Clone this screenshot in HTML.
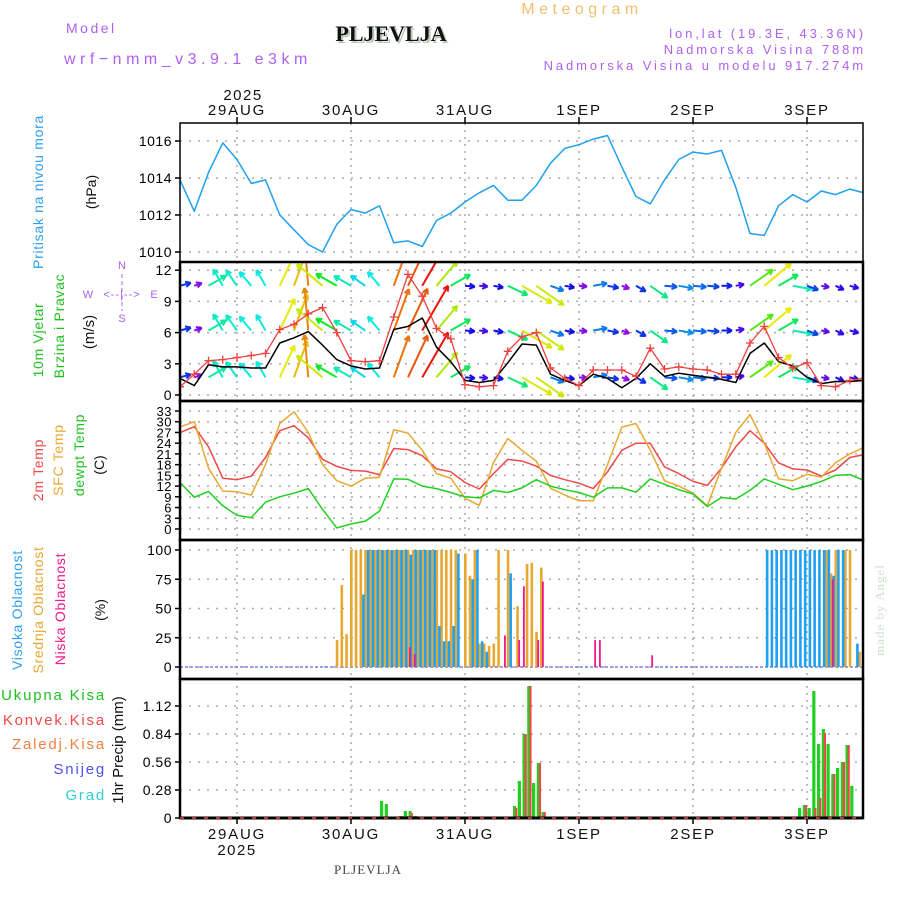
<!DOCTYPE html>
<html><head><meta charset="utf-8"><style>
html,body{margin:0;padding:0;background:#fff;}
svg{display:block;font-family:"Liberation Sans",sans-serif;}
</style></head><body>
<svg id="chart" width="900" height="900" viewBox="0 0 900 900">
<g>
<text x="66" y="33" font-size="14" fill="#b060f0" letter-spacing="2.5">Model</text>
<text x="64" y="64" font-size="16" fill="#b060f0" letter-spacing="4.5">wrf−nmm_v3.9.1 e3km</text>
<text x="393" y="43" font-size="22" font-weight="bold" font-family="Liberation Serif,serif" fill="#b8c8b8" text-anchor="middle">PLJEVLJA</text>
<text x="391" y="41" font-size="22" font-weight="bold" font-family="Liberation Serif,serif" fill="#111" text-anchor="middle">PLJEVLJA</text>
<text x="582" y="14" font-size="16" fill="#f0c070" letter-spacing="4.5" text-anchor="middle">Meteogram</text>
<text x="866" y="38" font-size="13" fill="#b060f0" letter-spacing="2.9" text-anchor="end">lon,lat (19.3E, 43.36N)</text>
<text x="866" y="54" font-size="13" fill="#b060f0" letter-spacing="2.9" text-anchor="end">Nadmorska Visina 788m</text>
<text x="866" y="70" font-size="13" fill="#b060f0" letter-spacing="2.9" text-anchor="end">Nadmorska Visina u modelu 917.274m</text>
<text x="243" y="100" font-size="15" fill="#111" text-anchor="middle" letter-spacing="1.5">2025</text>
<text x="368" y="874" font-size="13" font-family="Liberation Serif,serif" fill="#444" text-anchor="middle" letter-spacing="1">PLJEVLJA</text>
<text transform="translate(884,610) rotate(-90)" font-size="13" font-family="Liberation Serif,serif" fill="#d0e0d0" text-anchor="middle" letter-spacing="1">made by Angel</text>
</g>
<g font-size="14">
<text transform="translate(43,192) rotate(-90)" fill="#30a0f0" text-anchor="middle" letter-spacing="0.7">Pritisak na nivou mora</text>
<text transform="translate(96,192) rotate(-90)" fill="#111" text-anchor="middle">(hPa)</text>
<text transform="translate(43,340) rotate(-90)" fill="#20c020" text-anchor="middle" letter-spacing="0.7">10m Vjetar</text>
<text transform="translate(64,326) rotate(-90)" fill="#20c020" text-anchor="middle" letter-spacing="0.7">Brzina i Pravac</text>
<text transform="translate(94,332) rotate(-90)" fill="#111" font-size="15" text-anchor="middle">(m/s)</text>
<g fill="#b060f0" font-size="11">
<text x="88" y="298" text-anchor="middle">W</text><text x="154" y="298" text-anchor="middle">E</text>
<text x="122" y="269" text-anchor="middle">N</text><text x="122" y="322" text-anchor="middle">S</text>
<text x="122" y="298" text-anchor="middle" letter-spacing="1">&lt;--|--&gt;</text>
<line x1="122" y1="274" x2="122" y2="311" stroke="#b060f0" stroke-dasharray="4,3"/>
</g>
<text transform="translate(43,470) rotate(-90)" fill="#f04848" text-anchor="middle" letter-spacing="0.7">2m Temp</text>
<text transform="translate(63,460) rotate(-90)" fill="#e8a830" text-anchor="middle" letter-spacing="0.7">SFC Temp</text>
<text transform="translate(84,455) rotate(-90)" fill="#20c020" text-anchor="middle" letter-spacing="0.7">dewpt Temp</text>
<text transform="translate(104,465) rotate(-90)" fill="#111" text-anchor="middle">(C)</text>
<text transform="translate(22,610) rotate(-90)" fill="#30a0f0" text-anchor="middle" letter-spacing="0.7">Visoka Oblacnost</text>
<text transform="translate(43,610) rotate(-90)" fill="#e8a830" text-anchor="middle" letter-spacing="0.7">Srednja Oblacnost</text>
<text transform="translate(65,609) rotate(-90)" fill="#f0188c" text-anchor="middle" letter-spacing="0.7">Niska Oblacnost</text>
<text transform="translate(105,610) rotate(-90)" fill="#111" text-anchor="middle">(%)</text>
<g font-size="15" text-anchor="end" letter-spacing="1.8">
<text x="106" y="700" fill="#20c020">Ukupna Kisa</text>
<text x="106" y="725" fill="#f04848">Konvek.Kisa</text>
<text x="106" y="749" fill="#f08040">Zaledj.Kisa</text>
<text x="106" y="774" fill="#5050f0">Snijeg</text>
<text x="106" y="800" fill="#30d0d0">Grad</text>
</g>
<text transform="translate(123,750) rotate(-90)" fill="#111" font-size="15" text-anchor="middle">1hr Precip (mm)</text>
</g>
<g id="plots"></g>
</svg>
<script>
// time: 3-hourly index from 28AUG 12Z
const dayLabels = ["29AUG","30AUG","31AUG","1SEP","2SEP","3SEP"];
const dayHours = [12,36,60,84,108,132];
const pressure = [1013.9,1012.2,1014.3,1015.9,1015.0,1013.7,1013.9,1012.0,1011.2,1010.4,1010.0,1011.5,1012.3,1012.1,1012.5,1010.5,1010.6,1010.3,1011.7,1012.1,1012.7,1013.2,1013.6,1012.8,1012.8,1013.6,1014.8,1015.6,1015.8,1016.1,1016.3,1014.6,1013.0,1012.6,1013.9,1015.0,1015.4,1015.3,1015.5,1013.5,1011.0,1010.9,1012.5,1013.1,1012.7,1013.3,1013.1,1013.4,1013.2];
const windSpeed = [1.6,0.9,2.9,2.7,2.7,2.6,2.6,5.0,5.5,6.1,4.8,3.4,2.8,2.5,2.6,6.3,6.6,7.4,4.6,3.2,1.4,1.2,1.4,3.1,4.9,4.8,2.0,1.4,0.9,2.0,1.6,0.7,1.6,3.0,1.8,2.1,1.9,1.7,1.5,1.2,4.0,5.0,3.2,2.8,1.7,1.1,1.3,1.3,1.4];
const windGust = [0.8,2.0,3.3,3.4,3.6,3.8,4.0,6.3,6.8,7.8,8.4,6.0,3.3,3.2,3.3,7.5,11.6,9.5,6.4,5.4,1.0,0.8,0.9,4.2,5.6,6.0,2.6,1.6,0.9,2.4,2.4,2.4,1.8,4.5,2.5,2.7,2.5,2.4,2.0,2.0,5.0,6.6,3.6,2.6,3.1,0.9,0.8,1.4,1.6];
const windDir = [75,70,60,330,325,320,330,25,20,355,310,300,300,305,320,20,25,30,40,60,95,95,100,115,120,125,110,100,95,80,100,110,120,125,95,100,95,95,90,80,55,50,60,100,110,100,115,105,110];
const temp2m = [27,28.6,23,14.2,13.8,14.8,20,27.5,28.9,25.5,19.5,17.5,16.4,16.2,15.2,22.5,22.2,20.5,16.8,16,13,11.2,15.5,19.5,19.0,17.6,15,13.8,12.8,11.3,16,22,24,24,17.4,15.5,13.3,12.2,17,23,27.5,24,18.5,16.8,16.5,14.8,16.5,20,20.8];
const tempSfc = [28.5,30,17,10.6,10.4,9.5,18,29.5,32.8,27,18,13.5,12,14.2,14.5,27.8,26.8,22,15.5,14.2,8.6,6.6,18.6,25.3,22,19,11.4,9.5,7.9,7.9,18,28.5,29.5,22,13.5,12,10,6.5,17,27,32,24,14,13.5,15.3,14.5,18.5,21,22.8];
const dewpt = [13,8.9,10.5,6.5,3.8,3.2,7.5,9,10,11.3,5.5,0.3,1.4,2.2,5,14,13.9,12,11.3,10.2,9,8.7,10.8,10.2,11.5,13.8,12,11,10.2,8.9,11.5,11.5,10.3,14,12.5,11,9.8,6.3,8.8,8.4,10.8,14,12.5,11,12,13.3,15,15.2,13.6];
// clouds: hourly index from 28AUG 12Z
const midCloudHours = [33,34,35,36,37,38,39,40,41,42,43,44,45,46,47,48,49,50,51,52,53,54,55,56,57,58,60,61,62,63,64,65,66,67,69,71,73,74,75,76,136,137,138,140,141,143];
const midCloudPct = [23,70,28,100,100,100,100,100,100,100,100,100,100,100,100,100,100,100,100,100,100,100,100,100,100,100,97,78,100,20,20,18,20,100,100,52,88,89,30,85,100,80,100,100,100,13];
const highCloudHours = [38,39,40,41,42,43,44,45,46,47,48,49,50,51,52,53,54,55,56,57,58,61,62,63,64,69,123,124,125,126,127,128,129,130,131,132,133,134,135,136,137,138,139,142];
const highCloudPct = [62,100,100,100,100,100,100,100,100,100,96,100,100,100,100,100,35,22,22,35,97,75,100,22,13,80,100,100,100,100,100,100,100,100,100,100,100,100,100,100,78,100,100,20];
const lowCloudHours = [48,49,68,71,72,75,76,87,88,99,137];
const lowCloudPct = [17,11,27,23,69,23,73,23,23,10,75];
// precipitation: hourly
const precipHours = [42,43,44,46,47,48,49,70,71,72,73,74,75,76,130,131,132,133,134,135,136,137,138,139,140,141,143];
const precipTotal = [0.17,0.14,0.01,0.02,0.07,0.07,0.02,0.12,0.37,0.84,1.32,0.35,0.55,0.06,0.10,0.13,0.10,1.27,0.74,0.89,0.74,0.44,0.50,0.56,0.73,0.32,0.01];
const precipConv = [0,0,0,0.02,0.02,0.05,0.02,0.10,0.02,0.84,1.32,0,0.55,0.06,0,0.13,0,0.10,0.20,0.85,0,0.44,0,0.56,0.73,0,0.01];
const pTicks = [1010,1012,1014,1016];
const wTicks = [0,3,6,9,12];
const tTicks = [0,3,6,9,12,15,18,21,24,27,30,33];
const cTicks = [0,25,50,75,100];
const rTicks = [0,0.28,0.56,0.84,1.12];
const rTickLabels = ["0","0.28","0.56","0.84","1.12"];

const NS="http://www.w3.org/2000/svg";
const root=document.getElementById('plots');
const X0=180,X1=863,PXH=4.75;
const xH=h=>X0+h*PXH;
const x3=i=>xH(i*3);
function mk(tag,attrs,parent){const e=document.createElementNS(NS,tag);for(const k in attrs)e.setAttribute(k,attrs[k]);(parent||root).appendChild(e);return e;}
function lin(v0,y0,v1,y1){return v=>y0+(v-v0)*(y1-y0)/(v1-v0);}
const panels=[
 {name:'pressure',top:123,bot:262,y:lin(1010,252,1016,141),ticks:pTicks,labels:pTicks.map(String),fs:14},
 {name:'wind',top:262,bot:401,y:lin(0,395,12,270.2),ticks:wTicks,labels:wTicks.map(String),fs:14},
 {name:'temperature',top:401,bot:540,y:lin(0,529,33,411),ticks:tTicks,labels:tTicks.map(String),fs:13},
 {name:'cloud',top:540,bot:679,y:lin(0,667,100,550),ticks:cTicks,labels:cTicks.map(String),fs:14},
 {name:'precip',top:679,bot:818,y:lin(0,818,1.12,706),ticks:rTicks,labels:rTickLabels,fs:14}
];
const defs=mk('defs',{});
panels.forEach((p,k)=>{const c=mk('clipPath',{id:'clip'+k},defs);mk('rect',{x:X0,y:p.top,width:X1-X0,height:p.bot-p.top},c);});

panels.forEach((p,k)=>{
 const g=mk('g',{});
 
 
 p.ticks.forEach((t,j)=>{
  const y=p.y(t);
  const gl=mk('line',{x1:X0,x2:X1,y1:y,y2:y,stroke:'#aaa','stroke-dasharray':'2,7','stroke-width':1.5},g);
  
  
  mk('line',{x1:X0-5,x2:X0,y1:y,y2:y,stroke:'#000','stroke-width':1.5},g);
  const tx=mk('text',{x:X0-8,y:y+5,'font-size':p.fs,'text-anchor':'end',fill:'#000','letter-spacing':0.5},g);
  
  
  tx.textContent=p.labels[j];
 });
 dayHours.forEach(h=>{
  const vl=mk('line',{x1:xH(h),x2:xH(h),y1:p.top,y2:p.bot,stroke:'#aaa','stroke-dasharray':'2,5','stroke-width':1.5},g);
  
  
 });
 p.g=mk('g',{'clip-path':'url(#clip'+k+')'},g);
 const b=mk('rect',{x:X0,y:p.top,width:X1-X0,height:p.bot-p.top,fill:'none',stroke:'#000','stroke-width':k==0?1.5:2.5},g);
 
 
});
dayHours.forEach((h,j)=>{
 const t1=mk('text',{x:xH(h),y:115,'font-size':15,'text-anchor':'middle',fill:'#111','letter-spacing':1.8});
 
 
 t1.textContent=dayLabels[j];
 const t2=mk('text',{x:xH(h),y:839,'font-size':15,'text-anchor':'middle',fill:'#111','letter-spacing':1.8});
 
 
 t2.textContent=dayLabels[j];
 mk('line',{x1:xH(h),x2:xH(h),y1:818,y2:824,stroke:'#000','stroke-width':1.5});
 mk('line',{x1:xH(h),x2:xH(h),y1:117,y2:123,stroke:'#000','stroke-width':1.5});
});
const yr=mk('text',{x:xH(12),y:855,'font-size':15,'text-anchor':'middle',fill:'#111','letter-spacing':1.5});


yr.textContent='2025';

function line(arr,p,color,name,w){
 const pts=arr.map((v,i)=>x3(i).toFixed(1)+','+p.y(v).toFixed(1)).join(' ');
 const l=mk('polyline',{points:pts,fill:'none',stroke:color,'stroke-width':w||1.5,'stroke-linejoin':'round'},p.g);
 
 
 return l;
}
line(pressure,panels[0],'#20a0f0','pressure-line');
const hueStops=[[0.5,280],[1,270],[1.5,235],[2.5,185],[3.5,120],[5,60],[6,35],[7.5,0]];
function hue(s){if(s<=hueStops[0][0])return hueStops[0][1];for(let i=1;i<hueStops.length;i++){if(s<=hueStops[i][0]){const a=hueStops[i-1],b=hueStops[i];return a[1]+(s-a[0])*(b[1]-a[1])/(b[0]-a[0]);}}return 0;}
const wp=panels[1];
const wg=mk('g',{},wp.g);


[1.7,6.2,10.5].forEach(row=>{
 windDir.forEach((d,i)=>{
  const s=windSpeed[i],len=Math.max(8,s*7),a=d*Math.PI/180;
  const x0=x3(i),y0=wp.y(row);
  const x1=x0+len*Math.sin(a),y1=y0-len*Math.cos(a);
  const col='hsl('+hue(s).toFixed(0)+',90%,48%)';
  const ar=mk('g',{stroke:col,'stroke-width':2,fill:'none'},wg);
  
  
  mk('line',{x1:x0,y1:y0,x2:x1,y2:y1},ar);
  [2.6,-2.6].forEach(o=>{const b=a+Math.PI+o*0.18;mk('line',{x1:x1,y1:y1,x2:x1+6*Math.sin(b),y2:y1-6*Math.cos(b)},ar);});
 });
});
line(windSpeed,wp,'#000','wind-speed-line');
line(windGust,wp,'#f04040','wind-gust-line',1.3);
windGust.forEach((v,i)=>{
 const x=x3(i),y=wp.y(v);
 const m=mk('path',{d:`M${x-4},${y}h8M${x},${y-4}v8`,stroke:'#f04040','stroke-width':1.3},wp.g);
 
 
});
const tp=panels[2];
line(temp2m,tp,'#f04848','temp2m-line');
line(tempSfc,tp,'#e8a830','sfc-temp-line');
line(dewpt,tp,'#20d020','dewpt-line');
const cp=panels[3];
mk('line',{x1:X0,x2:X1,y1:cp.y(0),y2:cp.y(0),stroke:'#8080e0','stroke-width':1.5,'stroke-dasharray':'3,2'},cp.g);
function bars(hours,vals,p,color,dx,w,name){
 hours.forEach((h,i)=>{
  const y=p.y(vals[i]),y0=p.y(0);
  const r=mk('rect',{x:xH(h)+dx,y:Math.min(y,y0),width:w,height:Math.abs(y0-y),fill:color},p.g);
  
  
 });
}
bars(midCloudHours,midCloudPct,cp,'#e8a830',-1,2.6,'mid-cloud-bar');
bars(highCloudHours,highCloudPct,cp,'#20a0f0',1.6,2.6,'high-cloud-bar');
bars(lowCloudHours,lowCloudPct,cp,'#f0188c',1,1.8,'low-cloud-bar');
const rp=panels[4];
bars(precipHours,precipTotal,rp,'#20d020',0.5,3.2,'total-precip-bar');
bars(precipHours,precipConv,rp,'#f04848',2.6,2.2,'convective-precip-bar');
mk('line',{x1:X0,x2:X1,y1:818,y2:818,stroke:'#000','stroke-width':3});
mk('line',{x1:X0,x2:X1,y1:818,y2:818,stroke:'#f04848','stroke-width':1.5,'stroke-dasharray':'4,8'});
</script>
</body></html>
